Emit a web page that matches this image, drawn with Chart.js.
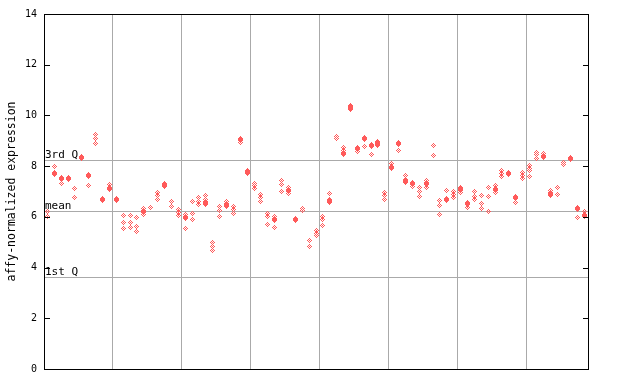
<!DOCTYPE html>
<html>
<head>
<meta charset="utf-8">
<script src="https://cdn.jsdelivr.net/npm/chart.js@4/dist/chart.umd.min.js"></script>
<style>
    body { margin: 0; background: #fff; }
</style>
</head>
<body>
<canvas id="expr_chart" width="640" height="384"></canvas>
<script>
// one entry per sample (79 samples in 8 groups)
var filledValues = [
    null, 7.70, 7.51, 7.53, null, 8.33, 7.65, null, 6.69, 7.11,
    6.70, null, null, null, 6.23, null, null, 7.23, null, null,
    5.99, null, null, 6.57, null, null, 6.49, null, 9.07, 7.73,
    null, null, null, 5.91, null, 7.04, 5.90, null, null, null,
    null, 6.62, null, 8.49, 10.33, 8.70, 9.08, 8.81, 8.91, null,
    7.94, 8.88, 7.45, 7.33, null, 7.30, null, null, 6.70, null,
    7.07, 6.52, null, null, null, 7.07, null, 7.70, 6.76, null,
    null, null, 8.39, 6.91, null, null, 8.31, 6.33, 6.04
]
var replicateValues = [
    [6.2, 6.0], [7.97], [7.32], [], [7.12, 6.76], [], [7.22], [9.25, 9.10, 8.90], [], [7.27],
    [], [6.07, 5.76, 5.55], [6.07, 5.77, 5.58], [5.97, 5.62, 5.41], [6.33, 6.10], [6.36], [6.97, 6.86, 6.70], [7.33], [6.60, 6.39], [6.28, 6.18, 6.04],
    [6.09, 5.55], [6.60, 6.14, 5.91], [6.76, 6.62, 6.49], [6.86, 6.70, 6.47], [4.97, 4.84, 4.68], [6.39, 6.26, 6.02], [6.62, 6.40], [6.40, 6.30, 6.13], [8.94], [7.81],
    [7.33, 7.23, 7.12], [6.89, 6.78, 6.62], [6.15, 6.02, 5.68], [6.02, 5.60], [7.44, 7.28, 7.00], [7.17, 6.94], [], [6.33, 6.26], [5.07, 4.84], [5.46, 5.36, 5.25],
    [6.02, 5.91, 5.65], [6.94, 6.70], [9.17, 9.10], [8.75, 8.62], [10.41, 10.25], [8.57], [8.77], [8.46], [8.96, 8.83], [6.97, 6.83, 6.70],
    [8.12], [8.60], [7.65, 7.36], [7.20], [7.17, 6.99, 6.81], [7.44, 7.17], [8.82, 8.43], [6.65, 6.46, 6.10], [7.05], [6.99, 6.89, 6.78],
    [7.15, 6.97], [6.36], [6.99, 6.81, 6.68], [6.86, 6.52, 6.33], [7.17, 6.81, 6.20], [7.23, 6.97], [7.81, 7.70, 7.60], [], [6.57], [7.73, 7.62, 7.52],
    [8.02, 7.91, 7.81, 7.60], [8.54, 8.44, 8.31], [8.49], [7.02, 6.83], [7.17, 6.89], [8.15, 8.07], [], [5.99], [6.23]
]
var groupBounds = [9.5, 19.5, 29.5, 39.5, 49.5, 59.5, 69.5]
var yTicks = [0, 2, 4, 6, 8, 10, 12, 14]
var quartileLabels = ['3rd Q', 'mean', '1st Q']
var quartileValues = [8.23, 6.22, 3.62]

var red = '#ff5a5a'
var gray = '#aaaaaa'
var mono = 'DejaVu Sans Mono'

// little pixel sprites for the two marker kinds
function makeSprite(rows) {
    var c = document.createElement('canvas')
    c.width = rows[0].length
    c.height = rows.length
    var cx = c.getContext('2d')
    cx.fillStyle = red
    rows.forEach(function (row, y) {
        for (var x = 0; x < row.length; x++) {
            if (row[x] == 'X') cx.fillRect(x, y, 1, 1)
        }
    })
    return c
}
var filledDiamond = makeSprite(['..X..', '.XXX.', 'XXXXX', 'XXXXX', 'XXXXX', '.XXX.', '..X..'])
var checkDiamond = makeSprite(['..X..', '.X.X.', 'X.X.X', '.X.X.', '..X..'])

var filledPoints = []
var replicatePoints = []
filledValues.forEach(function (v, i) {
    if (v != null) filledPoints.push({ x: i, y: v })
})
replicateValues.forEach(function (list, i) {
    list.forEach(function (v) { replicatePoints.push({ x: i, y: v }) })
})

var framePlugin = {
    id: 'frame',
    beforeDatasetsDraw: function (chart) {
        var ctx = chart.ctx
        var a = chart.chartArea
        var y = chart.scales.y
        ctx.save()
        ctx.strokeStyle = gray
        ctx.lineWidth = 1
        ctx.fillStyle = '#000'
        ctx.font = '11px ' + mono
        ctx.textBaseline = 'bottom'
        quartileValues.forEach(function (q, k) {
            var py = Math.round(y.getPixelForValue(q)) + 0.5
            ctx.beginPath()
            ctx.moveTo(a.left, py)
            ctx.lineTo(a.right, py)
            ctx.stroke()
            ctx.fillText(quartileLabels[k], a.left + 1, py)
        })
        ctx.restore()
        ctx.imageSmoothingEnabled = false
    },
    afterDraw: function (chart) {
        var ctx = chart.ctx
        var a = chart.chartArea
        var y = chart.scales.y
        ctx.save()
        ctx.strokeStyle = '#000'
        ctx.lineWidth = 1
        ctx.strokeRect(a.left + 0.5, a.top + 0.5, a.right - a.left, a.bottom - a.top)
        ctx.beginPath()
        yTicks.forEach(function (t) {
            var py = Math.round(y.getPixelForValue(t)) + 0.5
            ctx.moveTo(a.left, py)
            ctx.lineTo(a.left + 6, py)
            ctx.moveTo(a.right - 5, py)
            ctx.lineTo(a.right + 1, py)
        })
        ctx.stroke()
        ctx.restore()
    }
}

var ctx = document.getElementById('expr_chart').getContext('2d')
var myChart = new Chart(ctx, {
    type: 'scatter',
    data: {
        datasets: [{
            label: 'sample',
            data: filledPoints,
            pointStyle: filledDiamond,
            pointRadius: 3
        }, {
            label: 'replicates',
            data: replicatePoints,
            pointStyle: checkDiamond,
            pointRadius: 3
        }]
    },
    options: {
        responsive: false,
        animation: false,
        layout: { padding: { left: 0, top: 14, right: 52, bottom: 15 } },
        plugins: {
            legend: { display: false },
            tooltip: { enabled: false }
        },
        scales: {
            x: {
                type: 'linear',
                min: -0.5,
                max: 78.5,
                afterBuildTicks: function (scale) {
                    scale.ticks = groupBounds.map(function (v) { return { value: v } })
                },
                afterFit: function (scale) { scale.height = 0 },
                ticks: { display: false },
                grid: { color: gray, drawTicks: false },
                border: { display: false }
            },
            y: {
                min: 0,
                max: 14,
                afterBuildTicks: function (scale) {
                    scale.ticks = yTicks.map(function (v) { return { value: v } })
                },
                afterFit: function (scale) { scale.width = 44 },
                ticks: { color: '#000', font: { family: mono, size: 10 }, padding: 7 },
                grid: { drawOnChartArea: false, drawTicks: false },
                border: { display: false },
                title: {
                    display: true,
                    text: 'affy-normalized expression',
                    color: '#000',
                    font: { family: mono, size: 11.5 },
                    padding: { top: 5, bottom: 0 }
                }
            }
        }
    },
    plugins: [framePlugin]
})
</script>
</body>
</html>
